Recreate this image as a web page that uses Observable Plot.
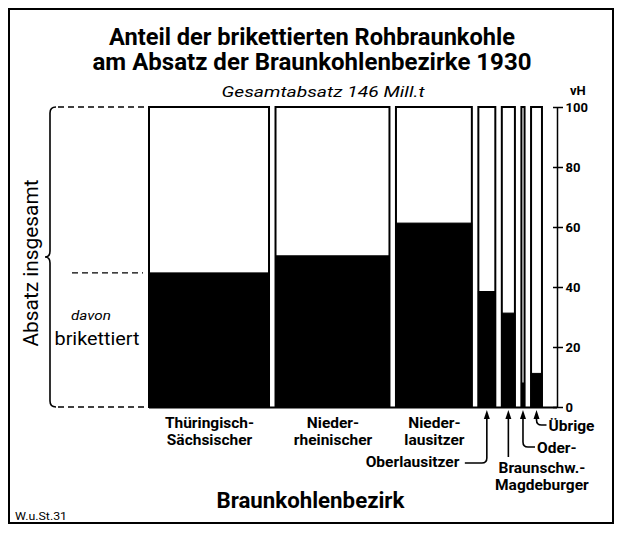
<!DOCTYPE html>
<html>
<head>
<meta charset="utf-8">
<script src="https://cdn.jsdelivr.net/npm/d3@7"></script>
<script src="https://cdn.jsdelivr.net/npm/@observablehq/plot@0.6"></script>
<style>
  body { margin: 0; background: #fff; }
  #chart svg { display: block; }
</style>
</head>
<body>
<div id="chart"></div>
<script>
// ---- data ----
const districts = [
  "Thüringisch-\nSächsischer",
  "Nieder-\nrheinischer",
  "Nieder-\nlausitzer",
  "Oberlausitzer",
  "Braunschw.-\nMagdeburger",
  "Oder-",
  "Übrige"
];
const sales = [49.5, 47, 31.3, 7, 5.4, 1.3, 4.5];          // Absatz, Mill. t (column widths)
const briquetted = [44.7, 50.4, 61.3, 38.5, 31.3, 8, 11.2]; // davon brikettiert, vH
const yTicks = [0, 20, 40, 60, 80, 100];
const titleLines = ["Anteil der brikettierten Rohbraunkohle", "am Absatz der Braunkohlenbezirke 1930"];
const subtitle = "Gesamtabsatz 146 Mill.t";
const yUnit = "vH";
const xTitle = "Braunkohlenbezirk";
const bracketLabel = "Absatz insgesamt";
const partLabel = ["davon", "brikettiert"];
const source = "W.u.St.31";

// ---- table for the library ----
const GAP = 2.68; // spacing between columns, in the width unit
let acc = 0;
const rows = districts.map((name, i) => {
  const x1 = acc, x2 = acc + sales[i];
  acc = x2 + GAP;
  return {name, x1, x2, mid: (x1 + x2) / 2, total: 100, brik: briquetted[i]};
});
const xEnd = rows[rows.length - 1].x2;
const xMax = xEnd + 6.2;

const FONT = "Roboto, 'DejaVu Sans', sans-serif";

function txt(g, str, x, y, o = {}) {
  const t = g.append("text")
    .attr("x", x).attr("y", y)
    .attr("font-family", FONT)
    .attr("font-size", o.size || 16)
    .attr("font-weight", o.weight || "bold")
    .attr("font-style", o.italic ? "italic" : "normal")
    .attr("text-anchor", o.anchor || "middle")
    .attr("fill", "#000")
    .text(str);
  if (o.len) t.attr("textLength", o.len).attr("lengthAdjust", "spacingAndGlyphs");
  if (o.rotate) t.attr("transform", `rotate(${o.rotate},${x},${y})`);
  return t;
}

// decorations: frame, titles, bracket, connectors
function decor(index, scales) {
  const X = scales.x, Y = scales.y;
  const g = d3.create("svg:g");
  g.append("rect").attr("x", 9).attr("y", 9).attr("width", 604).attr("height", 514)
    .attr("fill", "none").attr("stroke", "#000").attr("stroke-width", 2);

  txt(g, titleLines[0], 312, 45, {size: 23, len: 406});
  txt(g, titleLines[1], 312, 70, {size: 23, len: 439});
  txt(g, subtitle, 323, 97, {size: 14, weight: "normal", italic: true, len: 203});
  txt(g, yUnit, X(xMax) + 13, 95, {size: 13, anchor: "start"});

  const yT = Y(100), yB = Y(0), yM = Y(rows[0].brik), xl = X(0);
  // curly bracket
  const bx = 50, ym = (yT + yB) / 2;
  g.append("path")
    .attr("d", `M56,${yT} Q${bx},${yT} ${bx},${yT + 6} L${bx},${ym - 6} Q${bx},${ym} ${bx - 5},${ym} Q${bx},${ym} ${bx},${ym + 6} L${bx},${yB - 6} Q${bx},${yB} 56,${yB}`)
    .attr("fill", "none").attr("stroke", "#000").attr("stroke-width", 1.6);
  const dash = (x1, x2, y) => g.append("path").attr("d", `M${x1},${y}H${x2}`)
    .attr("stroke", "#000").attr("stroke-width", 1.3).attr("stroke-dasharray", "6 4");
  dash(58, xl - 2, yT);
  dash(58, xl - 2, yB);
  dash(72, xl - 6, yM);
  txt(g, bracketLabel, 38, 263, {size: 20, weight: "normal", rotate: -90, len: 167});
  txt(g, partLabel[0], 91, 320, {size: 13, weight: "normal", italic: true, len: 40});
  txt(g, partLabel[1], 97, 345, {size: 18, weight: "normal", len: 85});

  // connectors from the narrow columns to their labels
  const line = d => g.append("path").attr("d", d).attr("fill", "none")
    .attr("stroke", "#000").attr("stroke-width", 1.6);
  const head = x => g.append("path").attr("d", `M${x},${yB + 3}L${x - 3},${yB + 12}L${x + 3},${yB + 12}Z`).attr("fill", "#000");
  const a = X(rows[3].mid), b = X(rows[4].mid), c = X(rows[5].mid), d = X(rows[6].mid);
  line(`M${a},${yB + 8}V${yB + 51}Q${a},${yB + 56} ${a - 5},${yB + 56}H${a - 22}`); head(a);
  line(`M${b},${yB + 8}V${yB + 50}`); head(b);
  line(`M${c},${yB + 8}V${yB + 35}Q${c},${yB + 40} ${c + 5},${yB + 40}H${c + 12}`); head(c);
  line(`M${d},${yB + 8}V${yB + 13}Q${d},${yB + 18} ${d + 5},${yB + 18}H${d + 10}`); head(d);

  txt(g, xTitle, (X(0) + X(rows[2].x2)) / 2, 508, {size: 22, len: 188});
  txt(g, source, 15, 520, {size: 11, weight: "normal", anchor: "start", len: 52});
  return g.node();
}

const lab = {fontSize: 15.5, fontWeight: "bold", text: "name", lineHeight: 1.12};

const chart = Plot.plot({
  width: 619,
  height: 533,
  marginLeft: 149,
  marginRight: 62,
  marginTop: 107,
  marginBottom: 126,
  x: {domain: [0, xMax], axis: null},
  y: {domain: [0, 100]},
  style: {fontFamily: FONT, fontSize: "14px", background: "#fff", color: "#000", overflow: "visible"},
  marks: [
    Plot.rect(rows, {x1: "x1", x2: "x2", y1: 0, y2: "total", fill: "#fff", stroke: "#000", strokeWidth: 2}),
    Plot.rect(rows, {x1: "x1", x2: "x2", y1: 0, y2: "brik", fill: "#000", stroke: "#000", strokeWidth: 1}),
    Plot.ruleY([0], {stroke: "#000", strokeWidth: 2}),
    Plot.ruleX([xMax], {y1: 0, y2: 100, stroke: "#000", strokeWidth: 1.5}),
    Plot.axisY({anchor: "right", ticks: yTicks, tickSize: 10, dx: -5, tickPadding: 3,
      fontSize: 13, fontWeight: "bold", label: null, tickFormat: d => String(d), strokeWidth: 1.5}),
    Plot.text(rows.slice(0, 3), {...lab, x: "mid", y: 0, lineAnchor: "top", dy: 8}),
    Plot.text([rows[3]], {...lab, x: "mid", y: 0, textAnchor: "end", dx: -28, dy: 54}),
    Plot.text([rows[4]], {...lab, x: "mid", y: 0, textAnchor: "middle", lineAnchor: "top", dx: 33, dy: 53}),
    Plot.text([rows[5]], {...lab, x: "mid", y: 0, textAnchor: "start", dx: 13.5, dy: 40}),
    Plot.text([rows[6]], {...lab, x: "mid", y: 0, textAnchor: "start", dx: 11.5, dy: 18}),
    decor
  ]
});
document.getElementById("chart").appendChild(chart);
</script>
</body>
</html>
